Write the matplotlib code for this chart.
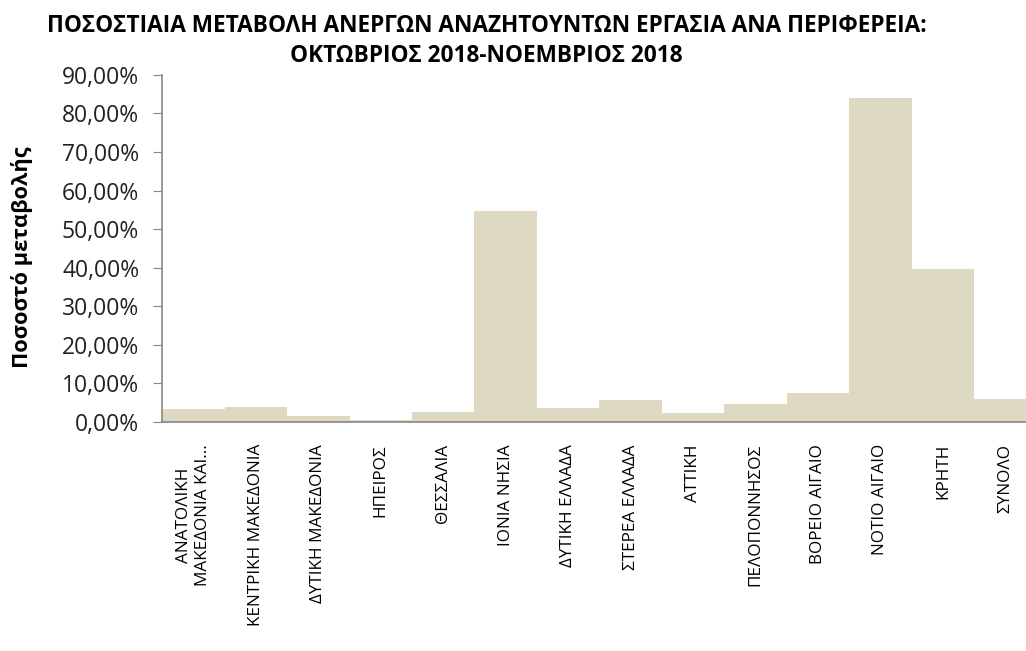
import matplotlib.pyplot as plt
from matplotlib.ticker import FuncFormatter

# Data
regions = ['ΑΝΑΤΟΛΙΚΗ\nΜΑΚΕΔΟΝΙΑ ΚΑΙ...', 'ΚΕΝΤΡΙΚΗ ΜΑΚΕΔΟΝΙΑ', 'ΔΥΤΙΚΗ ΜΑΚΕΔΟΝΙΑ',
           'ΗΠΕΙΡΟΣ', 'ΘΕΣΣΑΛΙΑ', 'ΙΟΝΙΑ ΝΗΣΙΑ', 'ΔΥΤΙΚΗ ΕΛΛΑΔΑ', 'ΣΤΕΡΕΑ ΕΛΛΑΔΑ',
           'ΑΤΤΙΚΗ', 'ΠΕΛΟΠΟΝΝΗΣΟΣ', 'ΒΟΡΕΙΟ ΑΙΓΑΙΟ', 'ΝΟΤΙΟ ΑΙΓΑΙΟ', 'ΚΡΗΤΗ', 'ΣΥΝΟΛΟ']
change_pct = [3.3, 3.8, 1.5, 0.45, 2.5, 54.7, 3.55, 5.6, 2.25, 4.6, 7.45, 84.0, 39.6, 5.9]
yticks = [0, 10, 20, 30, 40, 50, 60, 70, 80, 90]

plt.rcParams['font.family'] = ['Open Sans', 'DejaVu Sans']

fig = plt.figure(figsize=(10.26, 6.51), dpi=100)
ax = fig.add_axes([0.158, 0.352, 0.842, 0.533])

x = range(len(regions))
ax.bar(x, change_pct, width=1.0, color='#DDD9C3', edgecolor='none')

ax.set_xlim(-0.5, 13.33)
ax.set_ylim(0, 90)
ax.set_yticks(yticks)
ax.yaxis.set_major_formatter(FuncFormatter(lambda v, p: f'{v:.2f}'.replace('.', ',') + '%'))
ax.tick_params(axis='y', labelsize=16.5, length=6.5, color='#868686', pad=10, labelcolor='#222222')
ax.set_xticks(list(x))
ax.set_xticklabels(regions, rotation=90, fontsize=12.3, va='top', ha='center',
                   multialignment='center')
ax.tick_params(axis='x', length=0, pad=16)

for s in ['top', 'right']:
    ax.spines[s].set_visible(False)
for s in ['left', 'bottom']:
    ax.spines[s].set_color('#868686')
    ax.spines[s].set_linewidth(1.2)

ax.set_ylabel('Ποσοστό μεταβολής', fontsize=15.7, fontweight='bold')
ax.yaxis.set_label_coords(-0.149, 0.475)

fig.text(0.474, 0.937, 'ΠΟΣΟΣΤΙΑΙΑ ΜΕΤΑΒΟΛΗ ΑΝΕΡΓΩΝ ΑΝΑΖΗΤΟΥΝΤΩΝ ΕΡΓΑΣΙΑ ΑΝΑ ΠΕΡΙΦΕΡΕΙΑ:\nΟΚΤΩΒΡΙΟΣ 2018-ΝΟΕΜΒΡΙΟΣ 2018',
         ha='center', va='center', fontsize=16.3, fontweight='bold', linespacing=1.35)

fig.savefig('out.png', dpi=100)
